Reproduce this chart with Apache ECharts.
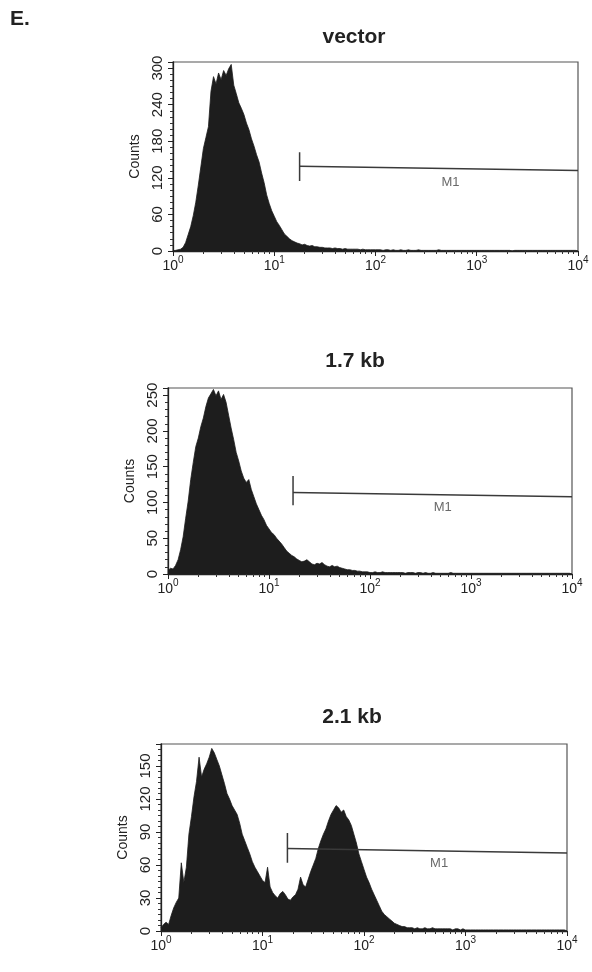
<!DOCTYPE html>
<html>
<head>
<meta charset="utf-8">
<title>E. flow cytometry histograms</title>
<script src="https://cdn.jsdelivr.net/npm/echarts@6/dist/echarts.min.js"></script>
<style>
  html, body { margin: 0; background: #fff; }
  #chart { width: 592px; height: 972px; }
</style>
</head>
<body>
<div id="chart"></div>
<script>
const panelTitles = ['vector', '1.7 kb', '2.1 kb'];
const binsPerDecade = 40; // histogram channels per decade, from 10^0 to 10^4

const vectorCounts = [
  0, 1, 2, 3, 6, 14, 27, 40, 58, 80,
  108, 138, 168, 186, 204, 262, 286, 274, 292, 281,
  296, 288, 299, 306, 272, 258, 243, 234, 224, 210,
  199, 184, 172, 158, 146, 128, 112, 92, 78, 66,
  57, 48, 42, 35, 28, 24, 20, 17, 15, 13,
  12, 10, 11, 9, 8, 9, 7, 7, 6, 6,
  5, 5, 5, 4, 5, 4, 4, 3, 4, 3,
  3, 3, 3, 3, 2, 3, 2, 2, 2, 2,
  2, 2, 2, 1, 2, 2, 1, 2, 1, 1,
  2, 1, 1, 2, 1, 1, 1, 2, 1, 1,
  1, 1, 1, 1, 1, 2, 1, 1, 1, 1,
  1, 1, 1, 1, 1, 1, 1, 1, 1, 1,
  1, 1, 1, 1, 1, 1, 1, 1, 1, 1,
  1, 1, 1, 1, 0, 1, 1, 1, 1, 1,
  1, 1, 1, 1, 1, 1, 1, 1, 1, 1,
  1, 1, 1, 1, 1, 1, 1, 1, 1, 1,
  0
];

const kb17Counts = [
  5, 8, 7, 12, 20, 34, 52, 78, 102, 132,
  156, 178, 190, 206, 218, 234, 246, 252, 258, 249,
  256, 244, 251, 240, 222, 204, 188, 170, 158, 144,
  134, 128, 132, 118, 108, 98, 90, 82, 76, 68,
  63, 58, 55, 50, 46, 42, 37, 32, 29, 26,
  24, 21, 19, 17, 18, 20, 17, 14, 13, 15,
  14, 16, 13, 11, 10, 12, 10, 11, 9, 8,
  7, 6, 6, 5, 5, 4, 4, 3, 3, 3,
  2, 2, 3, 2, 2, 3, 2, 2, 2, 2,
  2, 2, 2, 2, 1, 2, 2, 2, 1, 2,
  2, 1, 2, 1, 1, 2, 1, 1, 1, 1,
  1, 1, 2, 1, 1, 1, 1, 1, 1, 1,
  1, 1, 1, 1, 1, 1, 1, 1, 1, 1,
  1, 1, 1, 1, 1, 1, 1, 1, 1, 1,
  1, 1, 1, 1, 1, 1, 1, 1, 1, 1,
  1, 1, 1, 1, 1, 1, 1, 1, 1, 1,
  0
];

const kb21Counts = [
  3, 6, 8, 6, 14, 21, 26, 30, 62, 44,
  58, 88, 104, 122, 136, 158, 140, 147, 152, 158,
  166, 162, 156, 150, 142, 134, 125, 120, 114, 110,
  106, 98, 88, 82, 76, 70, 63, 58, 54, 50,
  46, 44, 58, 40, 35, 32, 30, 34, 36, 33,
  29, 28, 31, 33, 38, 49, 42, 40, 47, 54,
  60, 66, 75, 82, 88, 93, 100, 106, 110, 114,
  112, 108, 110, 104, 101, 96, 88, 80, 70, 63,
  56, 49, 44, 38, 33, 28, 23, 18, 15, 13,
  11, 9, 7, 6, 5, 4, 4, 3, 3, 3,
  2, 3, 2, 2, 3, 2, 2, 3, 2, 2,
  2, 2, 2, 2, 2, 1, 2, 2, 1, 2,
  1, 1, 1, 1, 1, 1, 1, 1, 1, 1,
  1, 1, 1, 1, 1, 1, 1, 1, 1, 1,
  1, 1, 1, 1, 1, 1, 1, 1, 1, 1,
  1, 1, 1, 1, 1, 1, 1, 1, 1, 1,
  0
];

const panelCounts = [vectorCounts, kb17Counts, kb21Counts];
const yMax = [310, 260, 170];
const yStep = [60, 50, 30];
const yMinorSplit = [6, 5, 6];

// M1 marker: start value, bar height at left/right end, vertical end tick, label spot
const gateStart = [17.8, 17.3, 17.6];
const gateLevel = [[139, 132], [114, 108], [75, 71]];
const gateTick = [[115, 162], [96, 137], [62, 89]];
const gateLabelAt = [[550, 113], [525, 93], [550, 61]];

const FONT = "'Liberation Sans', Arial, sans-serif";
const INK = '#1d1d1d';

const grids = [
  { left: 173, top: 62, width: 405, height: 189 },
  { left: 168, top: 388, width: 404, height: 186 },
  { left: 161, top: 744, width: 406, height: 187 }
];
const titleSpots = [[354, 27], [355, 351], [352, 707]];

const minorLogTicks = [];
[1, 10, 100, 1000].forEach(d => {
  for (let k = 2; k <= 9; k++) minorLogTicks.push(k * d);
});

const chart = echarts.init(document.getElementById('chart'));

const title = [{
  text: 'E.', left: 10, top: 9, padding: 0,
  textStyle: { fontFamily: FONT, fontSize: 21, fontWeight: 'bold', color: '#222' }
}];
panelTitles.forEach((t, i) => {
  title.push({
    text: t, left: titleSpots[i][0], top: titleSpots[i][1], textAlign: 'center', padding: 0,
    textStyle: { fontFamily: FONT, fontSize: 21, fontWeight: 'bold', color: '#222' }
  });
});

const grid = grids.map(g => Object.assign({
  show: true, borderColor: '#555', borderWidth: 1.2, backgroundColor: '#fff'
}, g));

const xAxis = [];
grids.forEach((g, i) => {
  xAxis.push({
    type: 'log', logBase: 10, min: 1, max: 10000, gridIndex: i, position: 'bottom',
    axisLine: { lineStyle: { color: '#222', width: 1.3 } },
    axisTick: { length: 5, lineStyle: { color: '#222' } },
    splitLine: { show: false },
    axisLabel: {
      margin: 4,
      formatter: v => '{b|10}{s|' + Math.round(Math.log10(v)) + '}',
      rich: {
        b: { fontFamily: FONT, fontSize: 14, lineHeight: 22, color: '#222' },
        s: { fontFamily: FONT, fontSize: 10, lineHeight: 10, verticalAlign: 'top', color: '#222' }
      }
    }
  });
});
grids.forEach((g, i) => {
  // log-spaced minor ticks (2..9 of each decade) along the bottom edge
  xAxis.push({
    type: 'log', logBase: 10, min: 1, max: 10000, gridIndex: i, position: 'bottom',
    axisLine: { show: false },
    axisLabel: { show: false },
    splitLine: { show: false },
    axisTick: { customValues: minorLogTicks, length: 3, lineStyle: { color: '#333' } }
  });
});

const yAxis = grids.map((g, i) => ({
  type: 'value', gridIndex: i, min: 0, max: yMax[i], interval: yStep[i],
  name: 'Counts', nameLocation: 'middle', nameGap: 27,
  nameTextStyle: { fontFamily: FONT, fontSize: 14, color: '#222' },
  axisLine: { show: true, lineStyle: { color: '#222', width: 1.3 } },
  axisTick: { show: true, length: 5, lineStyle: { color: '#222' } },
  minorTick: { show: true, splitNumber: yMinorSplit[i], length: 3, lineStyle: { color: '#333' } },
  splitLine: { show: false },
  axisLabel: { rotate: 90, margin: 8, fontFamily: FONT, fontSize: 15, color: '#222', showMaxLabel: false }
}));

const series = [];
panelCounts.forEach((counts, i) => {
  series.push({
    type: 'line', xAxisIndex: i, yAxisIndex: i,
    data: counts.map((c, k) => [Math.pow(10, k / binsPerDecade), c]),
    symbol: 'none', silent: true,
    lineStyle: { width: 0.8, color: INK },
    areaStyle: { color: INK, opacity: 1 }
  });
  series.push({
    type: 'line', xAxisIndex: i, yAxisIndex: i, symbol: 'none', silent: true,
    data: [[gateStart[i], gateLevel[i][0]], [10000, gateLevel[i][1]]],
    lineStyle: { width: 1.5, color: '#3a3a3a' }, z: 5
  });
  series.push({
    type: 'line', xAxisIndex: i, yAxisIndex: i, symbol: 'none', silent: true,
    data: [[gateStart[i], gateTick[i][0]], [gateStart[i], gateTick[i][1]]],
    lineStyle: { width: 1.5, color: '#3a3a3a' }, z: 5
  });
  series.push({
    type: 'scatter', xAxisIndex: i, yAxisIndex: i, silent: true,
    data: [gateLabelAt[i]], symbolSize: 0, itemStyle: { color: 'transparent' },
    label: { show: true, position: 'inside', formatter: 'M1', fontFamily: FONT, fontSize: 13, color: '#444' },
    z: 5
  });
});

chart.setOption({
  animation: false,
  backgroundColor: '#fff',
  title: title,
  grid: grid,
  xAxis: xAxis,
  yAxis: yAxis,
  series: series
});
</script>
</body>
</html>
